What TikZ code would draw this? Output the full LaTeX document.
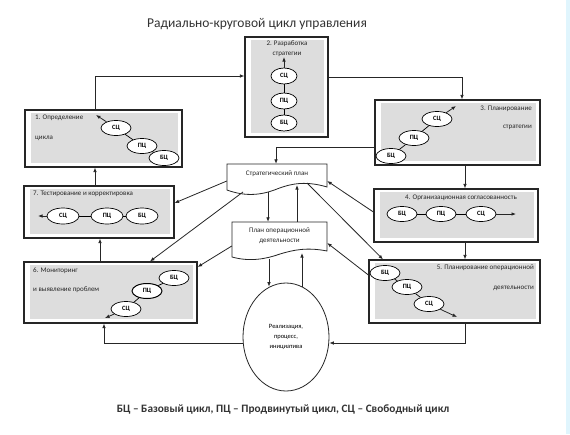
\documentclass[tikz,border=0pt]{standalone}
\usepackage{fontspec}
\setmainfont{Carlito}
\usetikzlibrary{arrows.meta,shapes.geometric,calc}
\begin{document}
\begin{tikzpicture}[x=1pt,y=-1pt,
  box/.style={draw=black!85, line width=1.2pt, fill=white, inner sep=0pt,
    path picture={\fill[gray!27] ([shift={(6pt,-3pt)}]path picture bounding box.north west) rectangle ([shift={(-4pt,4pt)}]path picture bounding box.south east);}},
  cyc/.style={ellipse, draw, line width=0.7pt, fill=white, minimum width=30pt, minimum height=15pt, inner sep=0pt, font=\fontsize{6.5}{7}\selectfont\bfseries},
  cycn/.style={cyc, minimum width=26pt, minimum height=16pt},
  lbl/.style={font=\fontsize{7}{8}\selectfont, inner sep=0pt, text=black!85},
  conn/.style={line width=0.8pt, draw=black!85, -{Latex[length=4.5pt,width=3.6pt]}},
  link/.style={line width=0.7pt},
  docline/.style={draw=black!85, line width=0.8pt, fill=white}]
\useasboundingbox (0,0) rectangle (570,434);
\fill[white] (0,0) rectangle (570,434);
\fill[cyan!12] (566,0) rectangle (570,434);

% title and caption
\node[font=\fontsize{13.5}{15}\selectfont, text=black!80] (title) at (257,24) {Радиально-круговой цикл управления};
\node[font=\fontsize{11.3}{13}\selectfont\bfseries, text=black!80] (caption) at (283,410) {БЦ -- Базовый цикл, ПЦ -- Продвинутый цикл, СЦ -- Свободный цикл};

% boxes
\node[box, minimum width=157pt, minimum height=57pt] (B1) at (103.5,138.5) {};
\node[box, minimum width=83pt, minimum height=100pt] (B2) at (286.5,87) {};
\node[box, minimum width=165pt, minimum height=65pt] (B3) at (457.5,132.5) {};
\node[box, minimum width=164pt, minimum height=53pt] (B4) at (456,215.5) {};
\node[box, minimum width=171pt, minimum height=63pt] (B5) at (454.5,291.5) {};
\node[box, minimum width=173pt, minimum height=61pt] (B6) at (110.5,292.5) {};
\node[box, minimum width=150pt, minimum height=52pt] (B7) at (99,212) {};

% box texts
\node[lbl, anchor=west] (t1a) at (35,118) {1. Определение};
\node[lbl, anchor=west] (t1b) at (35,138) {цикла};
\node[lbl] (t2a) at (287,44) {2. Разработка};
\node[lbl] (t2b) at (287,54) {стратегии};
\node[lbl, anchor=east] (t3a) at (532,109) {3. Планирование};
\node[lbl, anchor=east] (t3b) at (532,127) {стратегии};
\node[lbl] (t4) at (461,198) {4. Организационная согласованность};
\node[lbl, anchor=east] (t5a) at (534,268) {5. Планирование операционной};
\node[lbl, anchor=east] (t5b) at (534,288) {деятельности};
\node[lbl, anchor=west] (t6a) at (33,271) {6. Мониторинг};
\node[lbl, anchor=west] (t6b) at (33,290) {и выявление проблем};
\node[lbl, anchor=west] (t7) at (33,194) {7. Тестирование и корректировка};

% box 1 cycles
\node[cyc] (c1s) at (116,128) {СЦ};
\node[cyc] (c1p) at (142,146) {ПЦ};
\node[cyc] (c1b) at (164,158) {БЦ};
\coordinate (c1e) at (96,115);
\draw[link] (c1b) -- (c1p); \draw[link] (c1p) -- (c1s);
\draw[conn] (c1s) -- (c1e);

% box 2 cycles
\node[cycn] (c2s) at (284,76) {СЦ};
\node[cycn] (c2p) at (284,101) {ПЦ};
\node[cycn] (c2b) at (284,123) {БЦ};
\coordinate (c2e) at (284,57);
\draw[link] (c2b) -- (c2p); \draw[link] (c2p) -- (c2s);
\draw[conn] (c2s) -- (c2e);

% box 3 cycles
\node[cyc] (c3s) at (437,119) {СЦ};
\node[cyc] (c3p) at (414,138) {ПЦ};
\node[cyc] (c3b) at (391,156) {БЦ};
\coordinate (c3e) at (456,106);
\draw[link] (c3b) -- (c3p); \draw[link] (c3p) -- (c3s);
\draw[conn] (c3s) -- (c3e);

% box 4 cycles
\node[cyc] (c4b) at (402,214) {БЦ};
\node[cyc] (c4p) at (441,214) {ПЦ};
\node[cyc] (c4s) at (481,214) {СЦ};
\coordinate (c4e) at (516,214);
\draw[link] (c4b) -- (c4p); \draw[link] (c4p) -- (c4s);
\draw[conn] (c4s) -- (c4e);

% box 5 cycles
\node[cyc] (c5b) at (385,273) {БЦ};
\node[cyc] (c5p) at (407,287) {ПЦ};
\node[cyc] (c5s) at (429,304) {СЦ};
\coordinate (c5e) at (457,317);
\draw[link] (c5b) -- (c5p); \draw[link] (c5p) -- (c5s);
\draw[conn] (c5s) -- (c5e);

% box 6 cycles
\node[cyc] (c6b) at (174,278) {БЦ};
\node[cyc, line width=1pt] (c6p) at (147,291) {ПЦ};
\node[cyc] (c6s) at (126,309) {СЦ};
\coordinate (c6e) at (105,318);
\draw[link] (c6b) -- (c6p); \draw[link] (c6p) -- (c6s);
\draw[conn] (c6s) -- (c6e);

% box 7 cycles
\node[cyc, minimum width=32pt, minimum height=16pt] (c7s) at (63,216) {СЦ};
\node[cyc, minimum width=32pt, minimum height=16pt] (c7p) at (107,216) {ПЦ};
\node[cyc, minimum width=32pt, minimum height=16pt] (c7b) at (142,216) {БЦ};
\coordinate (c7e) at (38,216);
\draw[link] (c7b) -- (c7p); \draw[link] (c7p) -- (c7s);
\draw[conn] (c7s) -- (c7e);

% document shapes
\draw[docline] (227,190) -- (227,164) -- (327,164) -- (327,187)
  .. controls (307,181) and (292,183) .. (277,189)
  .. controls (262,195) and (246,197) .. (227,190) -- cycle;
\node[lbl, minimum width=100pt, minimum height=20pt] (sp) at (277,174) {Стратегический план};
\draw[docline] (232,257) -- (232,222) -- (327,222) -- (327,251)
  .. controls (307,247) and (293,250) .. (280,254)
  .. controls (266,259) and (250,262) .. (232,257) -- cycle;
\node[lbl, align=center, minimum width=95pt, minimum height=28pt] (po) at (279.5,236) {План операционной\\[2pt]деятельности};

% central ellipse
\node[ellipse, draw=black!85, line width=0.8pt, fill=white, minimum width=86pt, minimum height=108pt, inner sep=0pt, align=center, font=\fontsize{6.5}{10}\selectfont] (ell) at (286,337) {Реализация,\\процесс,\\инициатива};

% main connectors
\draw[conn] ([xshift=-8.5pt]B1.north) |- ([yshift=11pt]B2.west);
\draw[conn] ([yshift=10pt]B2.east) -| ([xshift=4.5pt]B3.north);
\draw[conn] ([xshift=7.5pt]B3.south) -- ([xshift=9pt]B4.north);
\draw[conn] ([xshift=9pt]B4.south) -- ([xshift=10.5pt]B5.north);
\draw[conn] ([xshift=10.5pt]B5.south) |- ([yshift=-6pt]ell.east);
\draw[conn] ([yshift=-6pt]ell.west) -| ([xshift=-6.5pt]B6.south);
\draw[conn] ([xshift=-10.5pt]B6.north) -- ([xshift=1pt]B7.south);
\draw[conn] ([xshift=-4pt]B7.north) -- ([xshift=-8.5pt]B1.south);

% central connectors
\draw[conn] ([yshift=-14.5pt]B3.west) -| ([xshift=-1pt]sp.north);
\draw[conn] ([xshift=-9pt,yshift=-18pt]sp.center) -- ([xshift=-11.5pt]po.north);
\draw[conn] ([xshift=17.5pt]po.north) -- ([xshift=20pt,yshift=-11pt]sp.center);
\draw[conn] ([xshift=-10.5pt,yshift=-23pt]po.center) -- ([xshift=-17pt,yshift=-4pt]ell.north);
\draw[conn] ([xshift=16pt,yshift=-4pt]ell.north) -- ([xshift=22.5pt,yshift=-17pt]po.center);

% diagonal connectors
\draw[conn] ([yshift=-7pt]sp.west) -- ([yshift=9pt]B7.east);
\draw[conn] ([xshift=-34pt,yshift=-18pt]sp.center) -- ([xshift=39.5pt]B6.north);
\draw[conn] ([yshift=-10pt]po.west) -- ([yshift=25.5pt]B6.east);
\draw[conn] ([yshift=3.5pt]B4.west) -- ([yshift=-7pt]sp.east);
\draw[conn] ([xshift=30pt,yshift=-9pt]sp.center) -- ([xshift=-71.5pt]B5.north);
\draw[conn] ([yshift=16.5pt]B5.west) -- ([yshift=-7pt]po.east);
\end{tikzpicture}
\end{document}
